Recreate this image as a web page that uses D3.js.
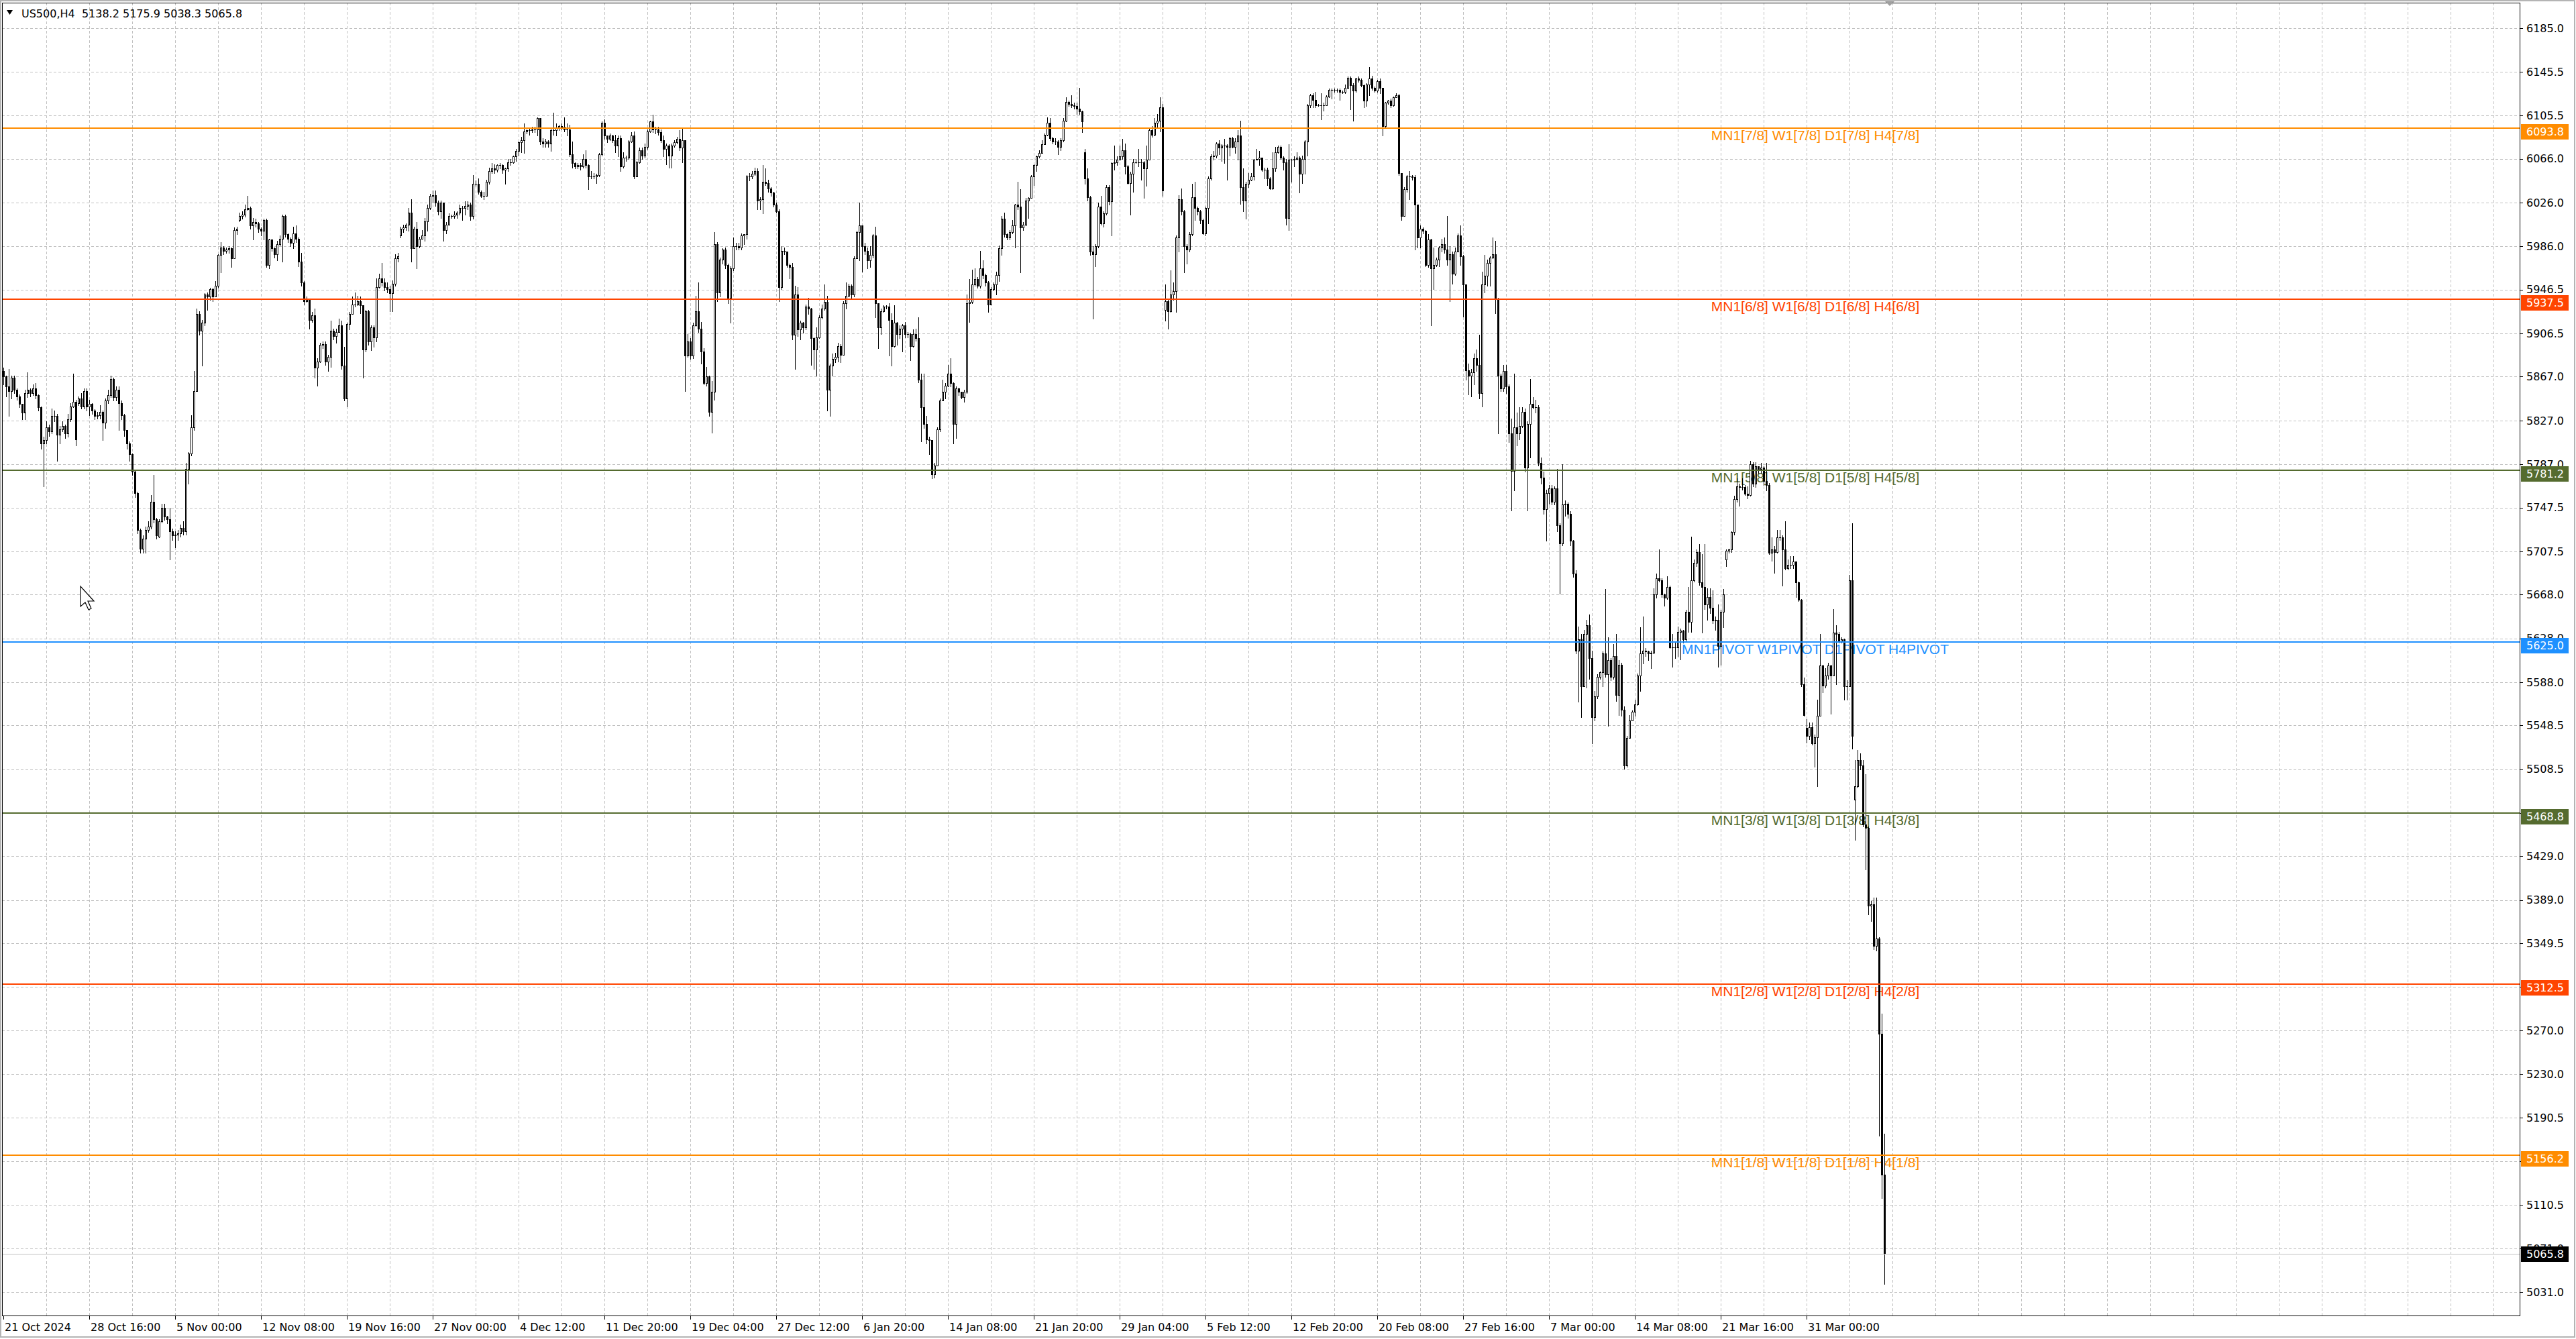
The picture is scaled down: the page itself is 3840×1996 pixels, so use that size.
<!DOCTYPE html>
<html lang="en">
<head>
<meta charset="utf-8"/>
<title>US500,H4</title>
<script src="https://d3js.org/d3.v7.min.js"></script>
<style>
  body { margin: 0; background: #fff; }
  svg { display: block; }
  text { font-family: "DejaVu Sans", Verdana, sans-serif; }
</style>
</head>
<body>
<svg id="chart" width="3840" height="1996"></svg>
<script>
const symbol = "US500", timeframe = "H4";

// H4 closes, highs, lows (bar 0 = 21 Oct 2024 08:00)
const closes = [
5867,5858,5854,5866,5855,5849,5842,5834,5852,5855,
5852,5856,5850,5839,5806,5809,5821,5817,5831,5831,
5814,5819,5822,5815,5828,5840,5844,5810,5847,5840,
5854,5840,5842,5836,5831,5832,5835,5825,5845,5850,
5865,5848,5855,5843,5832,5818,5806,5796,5780,5761,
5727,5710,5719,5727,5730,5753,5737,5722,5735,5747,
5739,5737,5726,5722,5723,5724,5729,5726,5783,5797,
5821,5854,5924,5909,5916,5942,5940,5947,5940,5950,
5978,5985,5982,5983,5984,5975,6001,6002,6014,6015,
6020,6021,6005,6008,6007,6002,6000,6010,5969,5992,
5984,5979,5988,5993,6014,5997,5993,5989,5998,5993,
5972,5953,5936,5937,5919,5923,5875,5881,5896,5897,
5881,5885,5909,5904,5908,5914,5877,5847,5915,5924,
5933,5933,5936,5932,5892,5927,5899,5912,5903,5949,
5957,5953,5949,5947,5943,5952,5975,5977,6002,6003,
6006,6017,5984,6002,5986,5993,5996,6009,6021,6032,
6033,6026,6018,6026,6001,6006,6014,6014,6015,6017,
6021,6021,6023,6024,6014,6043,6043,6036,6032,6032,
6045,6055,6057,6056,6060,6060,6056,6057,6063,6063,
6068,6073,6081,6083,6091,6092,6092,6093,6093,6103,
6082,6080,6082,6080,6092,6092,6094,6096,6095,6093,
6093,6070,6062,6059,6060,6059,6066,6060,6050,6050,
6050,6051,6070,6099,6087,6084,6087,6083,6078,6085,
6059,6067,6067,6082,6087,6050,6063,6074,6069,6077,
6091,6100,6093,6093,6090,6083,6075,6078,6069,6078,
6081,6084,6076,6083,5886,5899,5886,5914,5927,5911,
5890,5861,5867,5835,5853,5988,5944,5974,5983,5969,
5939,5966,5986,5986,5985,5996,5997,6050,6050,6052,
6055,6028,6029,6045,6044,6039,6035,6024,6018,5949,
5982,5981,5969,5967,5905,5942,5910,5916,5912,5931,
5929,5902,5892,5903,5921,5929,5935,5855,5877,5883,
5885,5895,5887,5934,5941,5950,5942,5975,5999,6005,
5986,5982,5973,5978,5996,5934,5912,5927,5931,5931,
5919,5895,5916,5906,5911,5914,5906,5906,5895,5906,
5902,5864,5839,5824,5810,5809,5778,5786,5819,5845,
5853,5859,5870,5861,5824,5856,5853,5848,5853,5934,
5935,5951,5956,5950,5966,5960,5953,5933,5947,5951,
5960,5984,6011,5997,5994,5999,6005,6024,6022,6003,
6006,6028,6030,6050,6060,6068,6071,6079,6088,6099,
6085,6082,6082,6077,6083,6101,6118,6116,6115,6114,
6112,6109,6100,6048,6031,5981,5979,5986,6022,6007,
6016,6040,6027,6062,6063,6065,6068,6074,6059,6044,
6052,6063,6063,6063,6063,6057,6065,6092,6088,6099,
6101,6113,6037,5936,5927,5942,5945,5994,6029,6018,
5986,5983,5997,6031,6021,6018,6010,5998,6021,6048,
6068,6069,6080,6076,6078,6078,6077,6085,6077,6082,
6087,6040,6028,6043,6047,6050,6065,6066,6067,6056,
6056,6048,6039,6057,6072,6077,6067,6063,6012,6065,
6065,6066,6067,6052,6066,6082,6115,6124,6120,6115,
6115,6115,6115,6123,6129,6129,6129,6129,6127,6127,
6131,6140,6133,6128,6139,6138,6133,6119,6134,6139,
6131,6128,6137,6131,6096,6117,6119,6115,6122,6124,
6053,6014,6038,6050,6050,6049,6024,5994,6002,6000,
5969,5992,5966,5969,5974,5985,5988,5983,5974,5979,
5961,5981,5996,5977,5951,5873,5868,5871,5884,5878,
5852,5951,5959,5971,5976,5979,5938,5868,5856,5872,
5858,5815,5781,5821,5815,5822,5835,5784,5824,5842,
5839,5839,5788,5775,5746,5761,5765,5753,5765,5731,
5715,5750,5751,5742,5717,5687,5617,5627,5584,5632,
5640,5610,5556,5575,5593,5597,5614,5595,5608,5593,
5612,5576,5604,5563,5512,5537,5553,5561,5568,5594,
5614,5617,5616,5614,5615,5668,5683,5681,5668,5665,
5675,5620,5620,5620,5634,5635,5627,5652,5643,5681,
5697,5707,5679,5675,5659,5666,5656,5644,5645,5621,
5652,5668,5708,5709,5725,5755,5767,5766,5766,5760,
5759,5787,5769,5785,5783,5784,5772,5768,5706,5709,
5707,5720,5720,5709,5692,5695,5695,5698,5679,5663,
5586,5558,5539,5547,5532,5538,5557,5603,5585,5594,
5603,5594,5633,5632,5625,5627,5584,5584,5681,5539,
5493,5517,5512,5458,5455,5384,5385,5347,5354,5267,
5138.2,5065.8
];

const highs = [
5875,5868,5874,5868,5868,5856,5851,5842,5855,5871,
5856,5860,5861,5851,5840,5812,5826,5823,5838,5836,
5833,5822,5826,5823,5833,5843,5870,5846,5849,5852,
5856,5856,5846,5843,5837,5835,5841,5836,5847,5855,
5868,5866,5858,5858,5845,5833,5817,5808,5797,5782,
5762,5728,5722,5730,5735,5759,5777,5738,5737,5751,
5751,5740,5747,5728,5726,5727,5732,5735,5788,5798,
5832,5872,5929,5927,5919,5943,5944,5948,5948,5954,
5979,5990,5986,5985,5986,5985,6003,6004,6017,6018,
6024,6032,6022,6012,6011,6008,6003,6011,6011,5993,
5991,5985,5991,5996,6015,6015,5998,5994,6004,6005,
5994,5980,5954,5940,5938,5926,5929,5884,5898,5899,
5899,5887,5918,5911,5911,5920,5918,5894,5916,5926,
5940,5944,5941,5940,5932,5928,5928,5914,5914,5957,
5961,5971,5957,5953,5950,5955,5979,5980,6004,6006,
6007,6021,6029,6004,6008,5995,6001,6012,6024,6034,
6037,6037,6028,6028,6026,6008,6016,6015,6018,6018,
6024,6023,6027,6027,6026,6051,6046,6048,6037,6036,
6047,6058,6062,6061,6061,6062,6061,6058,6066,6066,
6069,6075,6082,6086,6098,6093,6094,6095,6095,6104,
6103,6085,6084,6083,6094,6108,6098,6097,6098,6104,
6098,6097,6082,6063,6062,6062,6070,6074,6061,6055,
6053,6052,6071,6100,6102,6087,6089,6088,6088,6087,
6087,6072,6069,6083,6090,6091,6064,6076,6076,6080,
6093,6101,6106,6095,6095,6093,6087,6080,6079,6080,
6083,6086,6092,6094,6083,5906,5902,5916,5941,5953,
5917,5893,5876,5868,5863,5999,5990,5976,5984,5985,
5970,5968,5994,5989,5989,5998,5997,6051,6053,6055,
6058,6057,6031,6060,6057,6047,6040,6036,6026,6020,
5986,5985,5981,5970,5971,5950,5949,5918,5917,5933,
5939,5930,5903,5912,5923,5933,5951,5941,5879,5888,
5889,5898,5897,5936,5953,5952,5951,5977,6000,6026,
6005,5989,5985,5986,5997,6004,5934,5929,5932,5932,
5934,5925,5932,5917,5914,5915,5917,5908,5907,5910,
5911,5921,5870,5870,5831,5812,5807,5788,5821,5847,
5864,5861,5878,5884,5862,5858,5857,5853,5855,5942,
5956,5965,5966,5958,5982,5973,5961,5954,5949,5953,
5963,5987,6014,6017,5998,6001,6010,6025,6045,6038,
6008,6030,6031,6051,6061,6069,6074,6083,6089,6104,
6103,6086,6085,6083,6085,6103,6122,6119,6124,6117,
6117,6131,6110,6075,6057,6032,5986,5988,6026,6032,
6018,6042,6042,6063,6078,6068,6078,6084,6080,6060,
6054,6066,6066,6075,6066,6064,6078,6094,6096,6103,
6107,6122,6116,5951,5937,5964,5953,5996,6033,6039,
6019,5988,5999,6043,6045,6022,6019,6011,6022,6050,
6070,6073,6081,6083,6079,6084,6079,6086,6086,6085,
6092,6101,6057,6045,6053,6053,6066,6075,6073,6066,
6058,6058,6049,6072,6077,6078,6078,6068,6066,6079,
6066,6068,6072,6068,6069,6083,6116,6125,6126,6127,
6116,6126,6117,6124,6130,6130,6130,6130,6130,6128,
6134,6141,6141,6135,6140,6141,6139,6134,6135,6150,
6142,6132,6138,6139,6131,6118,6120,6121,6123,6126,
6125,6053,6040,6051,6055,6051,6051,6024,6005,6003,
6001,5997,5993,5985,5976,5986,5993,5994,6014,5986,
5981,5985,5998,6005,5978,5951,5879,5874,5888,5892,
5905,5963,5978,5974,5977,5994,5991,5939,5870,5878,
5878,5860,5829,5870,5834,5839,5839,5838,5826,5865,
5848,5846,5841,5793,5780,5764,5768,5768,5767,5783,
5733,5787,5754,5752,5744,5718,5690,5639,5632,5636,
5645,5650,5617,5580,5595,5598,5616,5673,5629,5610,
5623,5632,5608,5606,5566,5539,5558,5562,5572,5596,
5638,5648,5619,5617,5617,5674,5687,5709,5683,5669,
5685,5676,5632,5624,5639,5637,5636,5654,5675,5721,
5700,5709,5714,5705,5714,5674,5674,5672,5648,5659,
5654,5673,5709,5710,5726,5758,5774,5769,5774,5768,
5767,5790,5789,5789,5785,5788,5785,5788,5770,5720,
5712,5727,5727,5722,5735,5700,5703,5703,5698,5680,
5664,5592,5554,5551,5551,5540,5572,5632,5604,5601,
5606,5604,5655,5640,5634,5629,5628,5590,5686,5733,
5517,5526,5523,5517,5504,5456,5388,5391,5391,5355,
5285,5175.9
];

const lows = [
5860,5849,5831,5847,5852,5846,5839,5828,5828,5848,
5849,5850,5847,5836,5801,5767,5806,5813,5815,5826,
5790,5806,5817,5811,5812,5826,5839,5804,5841,5838,
5838,5836,5832,5833,5828,5829,5829,5809,5820,5843,
5848,5845,5845,5818,5828,5813,5801,5790,5777,5757,
5724,5706,5706,5706,5725,5728,5734,5719,5720,5734,
5736,5733,5700,5718,5711,5718,5721,5723,5723,5769,
5795,5818,5855,5905,5877,5914,5928,5937,5936,5942,
5948,5962,5979,5980,5980,5967,5975,5997,6009,6011,
6013,6019,6002,5992,6004,5999,5996,5992,5967,5966,
5982,5976,5973,5987,5972,5995,5990,5986,5984,5990,
5968,5950,5933,5935,5911,5917,5866,5859,5880,5893,
5878,5872,5876,5901,5898,5908,5874,5845,5840,5910,
5924,5931,5932,5925,5866,5890,5896,5891,5894,5899,
5948,5950,5946,5944,5927,5927,5950,5972,5994,5999,
6001,6000,5972,5984,5966,5985,5993,5991,6000,6020,
6026,6023,6015,6012,5991,5998,6006,6012,6012,6012,
6015,6010,6015,6020,6010,6011,6041,6034,6031,6029,
6032,6043,6053,6053,6054,6057,6053,6043,6055,6060,
6062,6064,6069,6072,6071,6089,6088,6090,6090,6087,
6079,6077,6077,6077,6073,6088,6087,6092,6093,6091,
6087,6068,6058,6057,6057,6056,6058,6058,6038,6048,
6048,6044,6050,6069,6084,6081,6083,6081,6072,6068,
6055,6058,6064,6066,6081,6048,6050,6062,6066,6067,
6075,6090,6090,6089,6088,6081,6068,6061,6058,6058,
6077,6080,6074,6063,5854,5885,5883,5884,5913,5908,
5879,5860,5859,5831,5816,5846,5936,5940,5970,5966,
5934,5916,5964,5983,5983,5983,5988,5993,6046,6048,
6051,6020,6020,6016,6042,6036,6032,6022,6017,5936,
5947,5979,5967,5957,5901,5874,5904,5901,5907,5910,
5924,5878,5874,5868,5902,5920,5928,5836,5831,5868,
5880,5881,5880,5887,5929,5940,5939,5940,5975,5973,
5963,5979,5966,5967,5976,5921,5893,5906,5926,5929,
5886,5877,5894,5896,5902,5890,5903,5903,5882,5894,
5900,5862,5808,5820,5806,5796,5774,5775,5786,5817,
5851,5847,5858,5858,5806,5811,5850,5847,5844,5852,
5917,5934,5950,5948,5948,5957,5950,5926,5933,5946,
5942,5954,5978,5995,5992,5992,5998,5985,6020,5962,
6001,6005,6012,6030,6042,6055,6067,6071,6079,6087,
6083,6080,6079,6070,6074,6082,6100,6114,6113,6112,
6107,6107,6090,6043,6028,5978,5920,5968,5985,6006,
6004,6015,6024,5996,6056,6060,6065,6066,6052,6043,
6015,6036,6062,6059,6047,6030,6041,6065,6086,6087,
6095,6091,6032,5918,5911,5926,5937,5926,5981,6015,
5962,5970,5981,5996,6010,6015,6007,5997,5996,6007,
6047,6065,6067,6070,6064,6062,6047,6069,6076,6071,
6065,6025,6018,6011,6040,6046,6047,6065,6060,6055,
6048,6042,6038,6038,6055,6071,6066,6056,6006,6001,
6045,6059,6065,6035,6044,6052,6069,6113,6113,6113,
6114,6102,6110,6115,6122,6121,6127,6127,6120,6126,
6126,6130,6111,6101,6127,6136,6132,6113,6114,6124,
6129,6127,6127,6126,6087,6094,6116,6113,6114,6122,
6051,6010,6014,6036,6029,6047,5983,5985,5985,5998,
5968,5967,5914,5947,5968,5968,5981,5980,5969,5936,
5952,5960,5981,5969,5922,5864,5851,5849,5860,5872,
5847,5840,5944,5950,5950,5975,5925,5815,5854,5854,
5852,5807,5745,5763,5804,5810,5821,5780,5745,5793,
5838,5834,5786,5769,5742,5717,5751,5750,5750,5726,
5669,5713,5740,5738,5713,5684,5614,5570,5556,5584,
5583,5591,5532,5553,5573,5591,5584,5593,5548,5590,
5591,5571,5558,5557,5509,5511,5538,5558,5557,5567,
5580,5605,5612,5608,5601,5614,5665,5680,5666,5658,
5664,5619,5602,5610,5612,5609,5624,5626,5634,5634,
5680,5694,5677,5633,5655,5645,5651,5642,5636,5602,
5604,5638,5694,5706,5707,5723,5753,5749,5764,5759,
5756,5758,5767,5766,5779,5779,5768,5763,5705,5699,
5688,5706,5718,5676,5691,5691,5692,5692,5666,5662,
5584,5557,5533,5536,5531,5511,5493,5558,5579,5583,
5591,5559,5594,5586,5624,5624,5572,5572,5584,5527,
5444,5492,5508,5456,5417,5376,5370,5344,5343,5174,
5117,5038.3
];

// each bar opens where the previous one closed, except these session gaps
const gapOpens = [[0, 5872], [28, 5843], [58, 5721], [88, 6010], [148, 5996],
  [403, 6072], [433, 5928], [642, 5700], [672, 5546], [690, 5481], [701, 5138.2]];

const dateLabels = ["21 Oct 2024", "28 Oct 16:00", "5 Nov 00:00", "12 Nov 08:00", "19 Nov 16:00",
  "27 Nov 00:00", "4 Dec 12:00", "11 Dec 20:00", "19 Dec 04:00", "27 Dec 12:00", "6 Jan 20:00",
  "14 Jan 08:00", "21 Jan 20:00", "29 Jan 04:00", "5 Feb 12:00", "12 Feb 20:00", "20 Feb 08:00",
  "27 Feb 16:00", "7 Mar 00:00", "14 Mar 08:00", "21 Mar 16:00", "31 Mar 00:00"];
const barsPerLabel = 32, barsPerGrid = 16;

const priceTicks = [6185.0, 6145.5, 6105.5, 6066.0, 6026.0, 5986.0, 5946.5, 5906.5, 5867.0, 5827.0,
  5787.0, 5747.5, 5707.5, 5668.0, 5628.0, 5588.0, 5548.5, 5508.5, 5468.5, 5429.0, 5389.0, 5349.5,
  5310.0, 5270.0, 5230.0, 5190.5, 5150.5, 5110.5, 5071.0, 5031.0];

// Murrey math levels
const levelValues = [6093.75, 5937.5, 5781.25, 5625, 5468.75, 5312.5, 5156.25];
const levelNames = ["[7/8]", "[6/8]", "[5/8]", "PIVOT", "[3/8]", "[2/8]", "[1/8]"];
const timeframes = ["MN1", "W1", "D1", "H4"];
const levelTextBar = 675;

const levelColors = {
  "[7/8]": "#ff8c00", "[1/8]": "#ff8c00",
  "[6/8]": "#ff4500", "[2/8]": "#ff4500",
  "[5/8]": "#556b2f", "[3/8]": "#556b2f",
  "PIVOT": "#1e90ff"
};

const plot = {left: 3, top: 4, right: 3756, bottom: 1961};
const svg = d3.select("#chart");

const x = d3.scaleLinear().domain([0, 1]).range([5, 9]);          // 4 px per bar
const y = d3.scaleLinear().domain([5031, 6185]).range([1926.1, 42.4]);
const lastBar = Math.floor(x.invert(plot.right));

// MT4 rounds half to even on its labels
function fmtLevel(v) {
  const t = v * 10, f = Math.floor(t);
  const n = Math.abs(t - f - 0.5) < 1e-9 ? (f % 2 === 0 ? f : f + 1) : Math.round(t);
  return (n / 10).toFixed(1);
}

const opens = closes.map((c, i) => i > 0 ? closes[i - 1] : c);
gapOpens.forEach(([i, o]) => { opens[i] = o; });
const bars = closes.map((c, i) => ({
  i: i, o: opens[i], c: c,
  h: Math.max(highs[i], opens[i], c),
  l: Math.min(lows[i], opens[i], c)
}));
const last = bars[bars.length - 1];

// window frame
svg.append("rect").attr("x", 1).attr("y", 1).attr("width", 3837).attr("height", 1992)
  .attr("fill", "#fff").attr("stroke", "#b4b4b4").attr("stroke-width", 2);

svg.append("clipPath").attr("id", "plotClip").append("rect")
  .attr("x", plot.left).attr("y", plot.top)
  .attr("width", plot.right - plot.left).attr("height", plot.bottom - plot.top);

const g = svg.append("g").attr("clip-path", "url(#plotClip)");

// grid
const grid = g.append("g").attr("stroke", "#c0c0c0").attr("stroke-width", 1)
  .attr("stroke-dasharray", "4,3").attr("shape-rendering", "crispEdges");
grid.selectAll("line.h").data(priceTicks).enter().append("line").attr("class", "h")
  .attr("x1", plot.left).attr("x2", plot.right)
  .attr("y1", d => Math.round(y(d)) + 0.5).attr("y2", d => Math.round(y(d)) + 0.5);
grid.selectAll("line.v").data(d3.range(barsPerGrid, lastBar + 1, barsPerGrid)).enter()
  .append("line").attr("class", "v")
  .attr("x1", d => Math.round(x(d)) + 0.5).attr("x2", d => Math.round(x(d)) + 0.5)
  .attr("y1", plot.top).attr("y2", plot.bottom);

// level texts (under the candles)
g.selectAll("text.lvl").data(levelValues).enter().append("text").attr("class", "lvl")
  .attr("x", x(levelTextBar) + 1)
  .attr("y", d => y(d) + 18)
  .attr("text-anchor", "middle")
  .style("font-family", "'Liberation Sans', Arial, sans-serif")
  .style("font-size", "21px")
  .attr("fill", (d, i) => levelColors[levelNames[i]])
  .text((d, i) => timeframes.map(t => t + levelNames[i]).join(" "));

// candles
const cg = g.append("g").attr("shape-rendering", "crispEdges");
bars.forEach(b => {
  const cx = Math.round(x(b.i));
  const yh = Math.round(y(b.h)), yl = Math.round(y(b.l));
  const top = Math.round(y(Math.max(b.o, b.c))), bot = Math.round(y(Math.min(b.o, b.c)));
  cg.append("rect").attr("x", cx).attr("y", yh).attr("width", 1)
    .attr("height", yl - yh + 1).attr("fill", "#000");
  cg.append("rect").attr("x", cx - 1).attr("y", top).attr("width", 3)
    .attr("height", bot - top + 1).attr("fill", "#000");
  if (b.c > b.o && bot - top > 1) {
    cg.append("rect").attr("x", cx).attr("y", top + 1).attr("width", 1)
      .attr("height", bot - top - 1).attr("fill", "#fff");
  }
});

// level lines on top
g.selectAll("line.lvl").data(levelValues).enter().append("line").attr("class", "lvl")
  .attr("x1", plot.left).attr("x2", plot.right)
  .attr("y1", d => Math.round(y(d))).attr("y2", d => Math.round(y(d)))
  .attr("stroke", (d, i) => levelColors[levelNames[i]]).attr("stroke-width", 2)
  .attr("shape-rendering", "crispEdges");

// bid line
g.append("line").attr("x1", plot.left).attr("x2", plot.right)
  .attr("y1", Math.round(y(last.c)) + 0.5).attr("y2", Math.round(y(last.c)) + 0.5)
  .attr("stroke", "#c0c0c0").attr("stroke-width", 1).attr("shape-rendering", "crispEdges");

// plot border
svg.append("rect").attr("x", plot.left + 0.5).attr("y", plot.top + 0.5)
  .attr("width", plot.right - plot.left).attr("height", plot.bottom - plot.top)
  .attr("fill", "none").attr("stroke", "#000").attr("stroke-width", 1)
  .attr("shape-rendering", "crispEdges");

// chart shift marker
const shiftX = Math.round(x(bars.length + 1));
svg.append("path").attr("d", `M${shiftX - 7},2 L${shiftX + 7},2 L${shiftX},9 Z`).attr("fill", "#a0a0a0");

// price axis boxes: level labels sit a little below their line, the bid box is centred
const boxW = 71, boxH = 23, boxX = 3758, textX = 3766;
const boxList = levelValues.map((v, i) => ({
  top: Math.round(y(v)) - 6, fill: levelColors[levelNames[i]], label: fmtLevel(v)
}));
boxList.push({top: Math.round(y(last.c)) - 11, fill: "#000", label: last.c.toFixed(1)});

// tick labels are covered by the boxes, as on the terminal: clip them out
const hole = "M" + (plot.right + 1) + ",0 H3840 V1996 H" + (plot.right + 1) + " Z " +
  boxList.map(b => `M${boxX},${b.top} h${boxW} v${boxH} h${-boxW} Z`).join(" ");
svg.append("clipPath").attr("id", "axisClip").append("path")
  .attr("d", hole).attr("clip-rule", "evenodd");

const ax = svg.append("g");
ax.selectAll("line").data(priceTicks).enter().append("line")
  .attr("x1", plot.right + 1).attr("x2", plot.right + 5)
  .attr("y1", d => Math.round(y(d)) + 0.5).attr("y2", d => Math.round(y(d)) + 0.5)
  .attr("stroke", "#000").attr("shape-rendering", "crispEdges");
ax.append("g").attr("clip-path", "url(#axisClip)")
  .selectAll("text").data(priceTicks).enter().append("text")
  .attr("x", textX).attr("y", d => y(d)).attr("dy", "0.36em")
  .style("font-size", "16px").attr("fill", "#000")
  .text(d => d.toFixed(1));

const boxes = svg.append("g");
boxList.forEach(b => {
  boxes.append("rect").attr("x", boxX).attr("y", b.top).attr("width", boxW).attr("height", boxH)
    .attr("fill", b.fill);
  boxes.append("text").attr("x", textX).attr("y", b.top + boxH / 2).attr("dy", "0.36em")
    .style("font-size", "16px").attr("fill", "#fff").text(b.label);
});

// time axis
const tx = svg.append("g");
const labelBars = dateLabels.map((d, i) => i * barsPerLabel);
tx.selectAll("line").data(labelBars).enter().append("line")
  .attr("x1", d => Math.round(x(d)) + 0.5).attr("x2", d => Math.round(x(d)) + 0.5)
  .attr("y1", plot.bottom + 1).attr("y2", plot.bottom + 6)
  .attr("stroke", "#000").attr("shape-rendering", "crispEdges");
tx.selectAll("text").data(dateLabels).enter().append("text")
  .attr("x", (d, i) => x(labelBars[i]) + 2).attr("y", 1984)
  .style("font-size", "16px").attr("fill", "#000")
  .text(d => d);

// title
svg.append("path").attr("d", "M10,15 L19,15 L14.5,22 Z").attr("fill", "#000");
svg.append("text").attr("x", 32).attr("y", 26).style("font-size", "16px")
  .style("white-space", "pre").attr("fill", "#000")
  .text(`${symbol},${timeframe}  ${last.o.toFixed(1)} ${last.h.toFixed(1)} ${last.l.toFixed(1)} ${last.c.toFixed(1)}`);

// mouse pointer left on the chart
svg.append("path")
  .attr("d", "M0,0 L0,30 L7,24 L12,35 L16,33 L11,22 L20,22 Z")
  .attr("transform", "translate(120,874)")
  .attr("fill", "#fff").attr("stroke", "#000").attr("stroke-width", 1.2);
</script>
</body>
</html>
